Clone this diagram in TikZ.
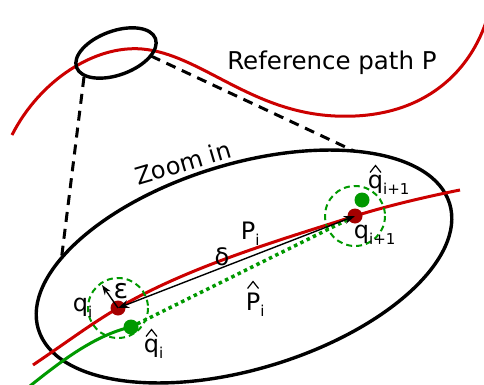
\documentclass[tikz,border=0pt]{standalone}
\usepackage{fontspec}
\setmainfont{DejaVu Sans}
\usetikzlibrary{arrows.meta}
\definecolor{cred}{RGB}{204,0,0}
\definecolor{cdot}{RGB}{165,0,0}
\definecolor{cgreen}{RGB}{0,153,0}
\newcommand\sbs[1]{\raisebox{-0.26em}{\fontsize{15}{15}\selectfont #1}}
\newcommand\hatsym{\tikz[x=1pt,y=1pt,baseline=0pt]\draw[line width=1.2pt, line cap=butt, line join=miter] (0,0) -- (5.5,7) -- (11,0);}
\newcommand\hatlow[1]{{\ooalign{#1\cr\hidewidth\raisebox{15.5pt}{\hatsym}\hidewidth\cr}}}
\newcommand\hatcap[1]{{\ooalign{#1\cr\hidewidth\raisebox{21.5pt}{\hatsym}\hidewidth\cr}}}
\begin{document}
\begin{tikzpicture}[x=1pt,y=-1pt,
  lbl/.style={font=\fontsize{24}{28}\selectfont, inner sep=0pt},
  sublbl/.style={lbl, anchor=base west},
  redpath/.style={draw=cred, line width=3pt},
  greenpath/.style={draw=cgreen, line width=3pt},
  greendots/.style={draw=cgreen, line width=3.5pt, dash pattern=on 3.5pt off 3.5pt},
  blackring/.style={draw=black, line width=3.4pt},
  zoomline/.style={draw=black, line width=3pt, dash pattern=on 10pt off 7pt},
  tolring/.style={draw=cgreen, line width=2pt, dash pattern=on 6pt off 4pt},
  reddot/.style={fill=cdot},
  greendot/.style={fill=cgreen},
  dimarrow/.style={draw=black, line width=1.4pt, {Stealth[length=11pt,width=8pt]}-{Stealth[length=11pt,width=8pt]}},
  epsarrow/.style={draw=black, line width=1.4pt, -{Stealth[length=10pt,width=7pt]}}
]
\useasboundingbox (0,0) rectangle (484,385);

% top reference path
\draw[redpath] (12,135) .. controls (40,80) and (95,45) .. (142,49)
  .. controls (200,54) and (250,112) .. (335,116)
  .. controls (420,120) and (468,75) .. (486,22);

% small ellipse
\draw[blackring, rotate around={20:(116,53)}] (116,53) ellipse [x radius=42, y radius=22];

% big ellipse
\draw[blackring, rotate around={17:(244,266.5)}] (244,266.5) ellipse [x radius=215, y radius=102.5];

% zoom lines
\coordinate (sl) at (84,77);
\coordinate (sr) at (151,56);
\coordinate (bl) at (61,262);
\coordinate (br) at (354,151);
\draw[zoomline] (sl) -- (bl);
\draw[zoomline] (sr) -- (br);

\node[lbl, font=\fontsize{24.5}{28}\selectfont] (ref) at (332,63) {Reference path P};
\node[lbl, rotate=16.5] (zoom) at (183,163) {Zoom in};

% zoomed paths
\coordinate (qi) at (118,308);
\coordinate (qj) at (355,216);
\coordinate (hqi) at (131,327);
\coordinate (hqj) at (362,200);
\coordinate (eps) at (102,285);

\draw[redpath] (33,365) .. controls (70,340) and (88,326) .. (qi)
  .. controls (190,266) and (280,240) .. (qj)
  .. controls (390,205) and (430,196) .. (460,190);
\draw[greenpath] (30,386) .. controls (60,362) and (95,335) .. (hqi);
\draw[greendots] (hqi) -- (qj);

\draw[tolring] (qi) circle [radius=30];
\draw[tolring] (qj) circle [radius=30];

\fill[reddot] (qi) circle [radius=7.5];
\fill[reddot] (qj) circle [radius=7.5];
\fill[greendot] (hqi) circle [radius=7.5];
\fill[greendot] (hqj) circle [radius=7.5];

\draw[dimarrow] (qi) -- (qj);
\draw[epsarrow] (qi) -- (eps);

\node[sublbl] (lqi) at (72.7,311) {q\sbs{i}};
\node[sublbl] (lhqi) at (143.7,352) {\hatlow{q}\sbs{i}};
\node[lbl, font=\fontsize{27}{30}\selectfont] (leps) at (121,291) {ε};
\node[lbl] (ldelta) at (222,257) {δ};
\node[sublbl] (lPi) at (240.6,239.5) {P\sbs{i}};
\node[sublbl] (lhPi) at (245.6,310) {\hatcap{P}\sbs{i}};
\node[sublbl] (lhqj) at (367.7,188) {\hatlow{q}\sbs{i+1}};
\node[sublbl] (lqj) at (353.7,238) {q\sbs{i+1}};
\end{tikzpicture}
\end{document}
